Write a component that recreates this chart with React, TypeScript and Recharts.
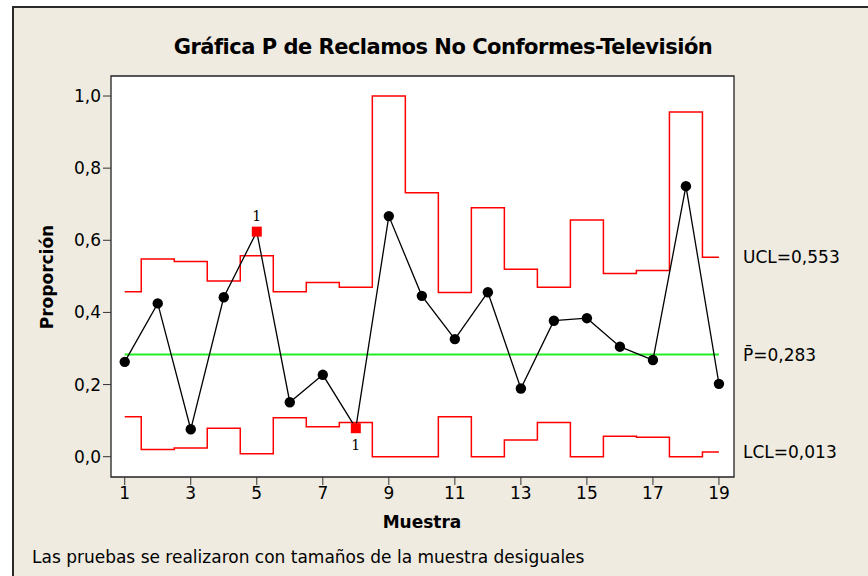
import React from "react";
import { ComposedChart, Line, XAxis, YAxis, ReferenceArea, ReferenceLine } from "recharts";

if (typeof document !== "undefined") {
  document.body.style.margin = "0";
}

const samples = [1, 2, 3, 4, 5, 6, 7, 8, 9, 10, 11, 12, 13, 14, 15, 16, 17, 18, 19];
const proportions = [0.263, 0.425, 0.076, 0.442, 0.624, 0.151, 0.227, 0.079, 0.667, 0.446, 0.326, 0.456, 0.189, 0.377, 0.384, 0.305, 0.268, 0.75, 0.202];
const uclValues = [0.457, 0.548, 0.541, 0.487, 0.557, 0.457, 0.483, 0.47, 1.0, 0.732, 0.455, 0.69, 0.52, 0.47, 0.656, 0.508, 0.516, 0.956, 0.553];
const lclValues = [0.111, 0.02, 0.024, 0.079, 0.008, 0.108, 0.083, 0.095, 0, 0, 0.111, 0, 0.046, 0.095, 0, 0.057, 0.054, 0, 0.013];
const failedSamples = [5, 8];
const pBar = 0.283;
const uclLast = 0.553;
const lclLast = 0.013;
const xTicks = [1, 3, 5, 7, 9, 11, 13, 15, 17, 19];
const yTicks = [0, 0.2, 0.4, 0.6, 0.8, 1.0];

const xDomain: [number, number] = [0.584, 19.456];
const yDomain: [number, number] = [-0.0563, 1.0555];

const FONT = "'DejaVu Sans', sans-serif";

const points = samples.map((s, i) => ({
  x: s,
  p: proportions[i],
  fail: failedSamples.includes(s),
}));

const steps = samples.map((s, i) => ({
  x: i === 0 ? s : s - 0.5,
  ucl: uclValues[i],
  lcl: lclValues[i],
}));
steps.push({
  x: samples[samples.length - 1],
  ucl: uclValues[uclValues.length - 1],
  lcl: lclValues[lclValues.length - 1],
});

const centerData = [
  { x: samples[0], c: pBar },
  { x: samples[samples.length - 1], c: pBar },
];

const fmt = (v: number) => v.toFixed(1).replace(".", ",");
const fmt3 = (v: number) => v.toFixed(3).replace(".", ",");

const renderDot = (props: any) => {
  const { cx, cy, payload, index } = props;
  if (cx == null || cy == null) return <g key={`n${index}`} />;
  if (payload.fail) {
    const above = payload.p > pBar;
    return (
      <g key={`d${index}`}>
        <rect x={cx - 5} y={cy - 5} width={10} height={10} fill="#ff0000" />
        <text
          x={cx}
          y={above ? cy - 11 : cy + 22}
          textAnchor="middle"
          fontFamily="'DejaVu Serif', 'Liberation Serif', serif"
          fontSize={14}
          fill="#000"
        >
          1
        </text>
      </g>
    );
  }
  return <circle key={`d${index}`} cx={cx} cy={cy} r={5.2} fill="#000" />;
};

export default function App() {
  return (
    <div style={{ position: "relative", width: 868, height: 576, overflow: "hidden", background: "#fff" }}>
      <div
        style={{
          position: "absolute",
          left: 12,
          top: 6,
          width: 880,
          height: 600,
          borderTop: "2px solid #2a2a2a",
          borderLeft: "2px solid #2a2a2a",
          background: "#EFEBE1",
        }}
      />
      <div
        style={{
          position: "absolute",
          left: 0,
          width: 886,
          top: 32,
          textAlign: "center",
          fontFamily: FONT,
          fontWeight: "bold",
          fontSize: 21,
          letterSpacing: -0.5,
          lineHeight: "30px",
          color: "#000",
        }}
      >
        Gráfica P de Reclamos No Conformes-Televisión
      </div>
      <div
        style={{
          position: "absolute",
          left: 47,
          top: 277,
          transform: "translate(-50%, -50%) rotate(-90deg)",
          fontFamily: FONT,
          fontWeight: "bold",
          fontSize: 17,
          whiteSpace: "nowrap",
          color: "#000",
        }}
      >
        Proporción
      </div>
      <div
        style={{
          position: "absolute",
          left: 422,
          top: 522,
          transform: "translate(-50%, -50%)",
          fontFamily: FONT,
          fontWeight: "bold",
          fontSize: 17,
          whiteSpace: "nowrap",
          color: "#000",
        }}
      >
        Muestra
      </div>
      <div
        style={{
          position: "absolute",
          left: 32,
          top: 557,
          transform: "translate(0, -50%)",
          fontFamily: FONT,
          fontSize: 17,
          whiteSpace: "nowrap",
          color: "#000",
        }}
      >
        Las pruebas se realizaron con tamaños de la muestra desiguales
      </div>
      <div style={{ position: "absolute", left: 0, top: 0 }}>
        <ComposedChart
          width={868}
          height={576}
          margin={{ top: 76, right: 134, bottom: 69, left: 51 }}
        >
          <XAxis
            dataKey="x"
            type="number"
            domain={xDomain}
            ticks={xTicks}
            allowDataOverflow
            axisLine={false}
            tickLine={{ stroke: "#333" }}
            tickSize={8}
            height={30}
            tick={{ fontFamily: FONT, fontSize: 17, fill: "#000" }}
          />
          <YAxis
            type="number"
            domain={yDomain}
            ticks={yTicks}
            allowDataOverflow
            axisLine={false}
            tickLine={{ stroke: "#333" }}
            tickSize={8}
            width={60}
            tickFormatter={fmt}
            tick={{ fontFamily: FONT, fontSize: 17, fill: "#000" }}
          />
          <ReferenceArea
            x1={xDomain[0]}
            x2={xDomain[1]}
            y1={yDomain[0]}
            y2={yDomain[1]}
            fill="#ffffff"
            fillOpacity={1}
            stroke="#222"
            strokeWidth={1.3}
          />
          <ReferenceLine
            y={uclLast}
            stroke="none"
            strokeOpacity={0}
            label={{ value: `UCL=${fmt3(uclLast)}`, position: "right", offset: 9, fill: "#000", fontSize: 17, fontFamily: FONT }}
          />
          <ReferenceLine
            y={pBar}
            stroke="none"
            strokeOpacity={0}
            label={{ value: `P\u0304=${fmt3(pBar)}`, position: "right", offset: 9, fill: "#000", fontSize: 17, fontFamily: FONT }}
          />
          <ReferenceLine
            y={lclLast}
            stroke="none"
            strokeOpacity={0}
            label={{ value: `LCL=${fmt3(lclLast)}`, position: "right", offset: 9, fill: "#000", fontSize: 17, fontFamily: FONT }}
          />
          <Line
            data={steps}
            dataKey="ucl"
            type="stepAfter"
            stroke="#ff0000"
            strokeWidth={1.5}
            dot={false}
            activeDot={false}
            isAnimationActive={false}
          />
          <Line
            data={steps}
            dataKey="lcl"
            type="stepAfter"
            stroke="#ff0000"
            strokeWidth={1.5}
            dot={false}
            activeDot={false}
            isAnimationActive={false}
          />
          <Line
            data={centerData}
            dataKey="c"
            type="linear"
            stroke="#22ee22"
            strokeWidth={2}
            dot={false}
            activeDot={false}
            isAnimationActive={false}
          />
          <Line
            data={points}
            dataKey="p"
            type="linear"
            stroke="#000"
            strokeWidth={1.3}
            dot={renderDot}
            activeDot={false}
            isAnimationActive={false}
          />
        </ComposedChart>
      </div>
    </div>
  );
}
